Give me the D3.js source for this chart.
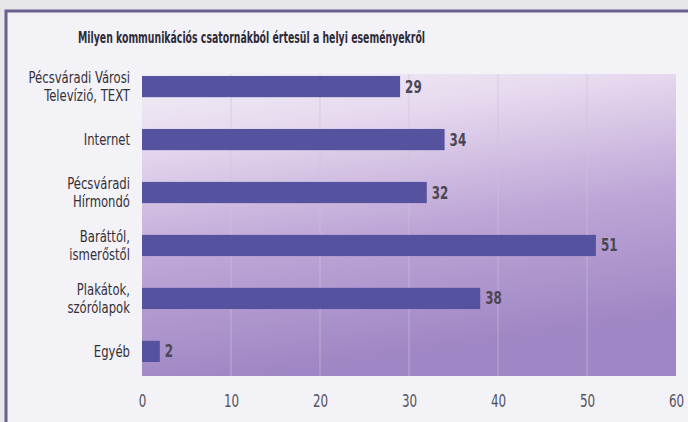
<!DOCTYPE html>
<html><head><meta charset="utf-8">
<script src="https://cdn.jsdelivr.net/npm/d3@7"></script>
<style>html,body{margin:0;padding:0;background:#e7e6ea;}svg{display:block;}</style>
</head><body>
<script>
const title = "Milyen kommunikációs csatornákból értesül a helyi eseményekről";
const categories = [["Pécsváradi Városi","Televízió, TEXT"],["Internet"],["Pécsváradi","Hírmondó"],["Baráttól,","ismerőstől"],["Plakátok,","szórólapok"],["Egyéb"]];
const values = [29,34,32,51,38,2];
const ticks = [0,10,20,30,40,50,60];

const W=688,H=422;
const svg=d3.select("body").append("svg").attr("width",W).attr("height",H);
const defs=svg.append("defs");
const g1=defs.append("linearGradient").attr("id","bg").attr("x1",0).attr("y1",0).attr("x2",0.25).attr("y2",1);
g1.append("stop").attr("offset","0%").attr("stop-color","#f0eef5");
g1.append("stop").attr("offset","22%").attr("stop-color","#e7daef");
g1.append("stop").attr("offset","60%").attr("stop-color","#bda5d6");
g1.append("stop").attr("offset","100%").attr("stop-color","#9f86c4");

svg.append("rect").attr("x",5).attr("y",10).attr("width",W).attr("height",H).attr("fill","#f3f2f7");
svg.append("path").attr("d",`M6,${H} V11 H${W}`).attr("fill","none").attr("stroke","#6b5f8f").attr("stroke-width",3);

const x=d3.scaleLinear().domain([0,60]).range([142,676]);
const y=d3.scaleBand().domain(d3.range(categories.length)).range([76,362]).paddingInner(0.6).paddingOuter(0);

svg.append("rect").attr("x",x(0)).attr("y",74).attr("width",x(60)-x(0)).attr("height",376-74).attr("fill","url(#bg)");

svg.append("g").selectAll("line").data(ticks.slice(1,-1)).join("line")
 .attr("x1",d=>x(d)).attr("x2",d=>x(d)).attr("y1",74).attr("y2",376)
 .attr("stroke","#cdc3db").attr("stroke-width",1).attr("opacity",0.6);

const font="'DejaVu Sans Condensed','Liberation Sans Narrow',sans-serif";

svg.append("text").attr("x",78).attr("y",43).attr("font-family",font).attr("font-weight","bold")
 .attr("font-size",16).attr("fill","#2e2b38")
 .attr("textLength",347).attr("lengthAdjust","spacingAndGlyphs").text(title);

svg.append("g").selectAll("rect").data(values).join("rect")
 .attr("x",x(0)).attr("y",(d,i)=>y(i)).attr("width",d=>x(d)-x(0)).attr("height",y.bandwidth())
 .attr("fill","#55539f");

svg.append("g").attr("font-family",font).attr("font-weight","bold").attr("font-size",17).attr("fill","#4a4754")
 .selectAll("text").data(values).join("text")
 .attr("x",d=>x(d)+5).attr("y",(d,i)=>y(i)+y.bandwidth()/2+6)
 .attr("transform",d=>`translate(${x(d)+5},0) scale(0.78,1) translate(${-(x(d)+5)},0)`)
 .text(d=>d);

const lab=svg.append("g").attr("font-family",font).attr("font-size",15.5).attr("fill","#333038").attr("text-anchor","end");
let firstText=null;
categories.forEach((c,i)=>{
  const cy=y(i)+y.bandwidth()/2;
  const lh=18;
  const t=lab.append("text").attr("x",130);
  if(!firstText) firstText=t;
  c.forEach((line,j)=>{
    t.append("tspan").attr("x",130).attr("y",cy+5.5+(j-(c.length-1)/2)*lh).text(line);
  });
});
const bw=firstText.node().getBBox().width;
const sx=Math.min(1.2,Math.max(0.6,102/bw));
lab.attr("transform",`translate(130,0) scale(${sx},1) translate(-130,0)`);

const ax=svg.append("g").attr("transform","translate(0,376)")
 .call(d3.axisBottom(x).tickValues(ticks).tickSize(0).tickPadding(19));
ax.select(".domain").remove();
ax.selectAll("text").attr("font-family",font).attr("font-size",17).attr("fill","#555260").attr("transform","scale(0.78,1)");
</script>
</body></html>
